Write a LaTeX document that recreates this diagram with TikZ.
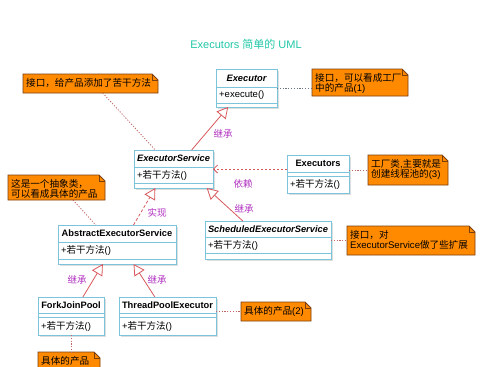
\documentclass[tikz,border=0pt]{standalone}
\usepackage{fontspec}
\setmainfont{Liberation Sans}
\newfontfamily\cjkfont{Noto Sans CJK SC}
\newcommand\zh[1]{{\cjkfont #1}}
\usetikzlibrary{arrows.meta,calc}
\definecolor{boxc}{HTML}{7CC4DC}
\definecolor{notefill}{HTML}{FF8A00}
\definecolor{notedraw}{HTML}{7A3E10}
\definecolor{arrc}{HTML}{D8585C}
\definecolor{labc}{HTML}{B030C0}
\definecolor{titlec}{HTML}{20C8A8}
\definecolor{linkc}{HTML}{C06868}
\definecolor{linkg}{HTML}{6A7480}
\newcommand\umlnote[6]{%
  \path[fill=notefill,draw=notedraw,line width=0.8pt] (#2,#3) -- (#4-6,#3) -- (#4,#3+6) -- (#4,#5) -- (#2,#5) -- cycle;
  \draw[notedraw,line width=0.6pt] (#4-6,#3) -- (#4-6,#3+6) -- (#4,#3+6);
  \node[inner sep=0pt,outer sep=0pt,minimum width={(#4-#2)*1pt},minimum height={(#5-#3)*1pt},anchor=north west] (#1) at (#2,#3) {};
  \node[notetext,anchor=north west] (#1-t) at (#2+3,#3+4) {#6};
}
\newcommand\umlclass[7]{%
  \fill[black!13] (#2+1.8,#3+1.8) rectangle (#4+1.8,#5+1.8);
  \node[classbox,minimum width={(#4-#2)*1pt},minimum height={(#5-#3)*1pt},anchor=north west] (#1) at (#2,#3) {};
  \draw[boxc,line width=1pt] (#2,#6) -- (#4,#6) (#2,#7) -- (#4,#7);
}
\begin{document}
\begin{tikzpicture}[x=1pt,y=-1pt,
  classbox/.style={draw=boxc,fill=white,line width=1pt,inner sep=0pt,outer sep=0pt},
  hdri/.style={font=\fontsize{9.3}{10}\selectfont\bfseries\itshape,inner sep=0pt},
  hdrb/.style={font=\fontsize{9.3}{10}\selectfont\bfseries,inner sep=0pt},
  meth/.style={font=\fontsize{9.5}{10}\selectfont,inner sep=0pt,anchor=west},
  notetext/.style={font=\fontsize{9.6}{10.5}\selectfont,inner sep=0pt,align=left,text=black},
  lab/.style={font=\fontsize{9.5}{10}\selectfont\cjkfont,text=labc,inner sep=0pt},
  inherit/.style={draw=arrc,line width=0.8pt,-{Triangle[open,fill=white,length=11pt,width=12pt]}},
  realize/.style={inherit,dash pattern=on 3pt off 2pt},
  depend/.style={draw=arrc,line width=0.8pt,dash pattern=on 2pt off 2pt,-{Straight Barb[length=4pt,width=8pt]}},
  notelink/.style={draw=linkc,line width=0.8pt,dash pattern=on 1.2pt off 1.6pt},
  notelinkg/.style={draw=linkg,line width=0.8pt,dash pattern=on 1.2pt off 1.6pt}]
\useasboundingbox[fill=white] (0,0) rectangle (499,367);

\node[font=\fontsize{11}{12}\selectfont,text=titlec,inner sep=0pt] (title) at (246,44) {Executors \zh{简单的} UML};

% classes
\umlclass{ex}{216}{69}{277}{107}{87}{103}
\node[hdri] (ex-h) at (246.5,78) {Executor};
\node[meth] (ex-m) at (219,95) {+execute()};

\umlclass{es}{134}{150}{213}{188}{167}{183}
\node[hdri] (es-h) at (173.5,158.5) {ExecutorService};
\node[meth] (es-m) at (137,175) {+\zh{若干方法}()};

\umlclass{exs}{287}{155}{349}{193}{172}{176}
\node[hdrb] (exs-h) at (318,163.5) {Executors};
\node[meth] (exs-m) at (290,184.5) {+\zh{若干方法}()};

\umlclass{ses}{205}{221}{331}{259}{237}{253}
\node[hdri] (ses-h) at (268,229) {ScheduledExecutorService};
\node[meth] (ses-m) at (208,245) {+\zh{若干方法}()};

\umlclass{aes}{58}{225}{176}{264}{242}{259}
\node[hdrb] (aes-h) at (117,233.5) {AbstractExecutorService};
\node[meth] (aes-m) at (61,250.5) {+\zh{若干方法}()};

\umlclass{fjp}{38}{297}{104}{335}{313}{317}
\node[hdrb] (fjp-h) at (71,305) {ForkJoinPool};
\node[meth] (fjp-m) at (41,326) {+\zh{若干方法}()};

\umlclass{tpe}{119}{297}{216}{335}{313}{317}
\node[hdrb] (tpe-h) at (167.5,305) {ThreadPoolExecutor};
\node[meth] (tpe-m) at (122,326) {+\zh{若干方法}()};

% notes
\umlnote{n1}{23}{74}{158}{93}{\zh{接口，给产品添加了苦干方法}}
\umlnote{n2}{312}{69}{408}{96}{\zh{接口，可以看成工厂}\\\zh{中的产品}(1)}
\umlnote{n3}{368}{155}{448}{185}{\zh{工厂类}{,}\zh{主要就是}\\\zh{创建线程池的}(3)}
\umlnote{n4}{8}{175}{105}{200}{\zh{这是一个抽象类，}\\\zh{可以看成具体的产品}}
\umlnote{n5}{347}{226}{475}{255}{\zh{接口，对}\\ExecutorService\zh{做了些扩展}}
\umlnote{n6}{241}{302}{311}{321}{\zh{具体的产品}(2)}
\umlnote{n7}{38}{352}{100}{372}{\zh{具体的产品}}

% relations
\draw[inherit] ($(es.north west)!0.73!(es.north east)$) -- ($(ex.south west)!0.2!(ex.south east)$);
\draw[inherit] ($(ses.north west)!0.30!(ses.north east)$) -- ($(es.south west)!0.92!(es.south east)$);
\draw[realize] ($(aes.north west)!0.64!(aes.north east)$) -- ($(es.south west)!0.27!(es.south east)$);
\draw[inherit] ($(fjp.north west)!0.68!(fjp.north east)$) -- ($(aes.south west)!0.38!(aes.south east)$);
\draw[inherit] ($(tpe.north west)!0.37!(tpe.north east)$) -- ($(aes.south west)!0.64!(aes.south east)$);
\draw[depend] (es.east -| exs.west) -- (es.east);

% labels
\node[lab] (l1) at (223,134) {继承};
\node[lab] (l2) at (243,184) {依赖};
\node[lab] (l3) at (244,209) {继承};
\node[lab] (l4) at (157,213) {实现};
\node[lab] (l5) at (77,280) {继承};
\node[lab] (l6) at (157,280) {继承};

% note links
\draw[notelink] ($(n1.south west)!0.59!(n1.south east)$) -- ($(es.north west)!0.27!(es.north east)$);
\draw[notelinkg] (ex.east) -- (ex.east -| n2.west);
\draw[notelink] (n3.west -| exs.east) -- (n3.west);
\draw[notelink] ($(n4.south west)!0.67!(n4.south east)$) -- ($(aes.north west)!0.32!(aes.north east)$);
\draw[notelink] (ses.east) -- (ses.east -| n5.west);
\draw[notelink] (n6.west -| tpe.east) -- (n6.west);
\draw[notelink] (fjp.south) -- (fjp.south |- n7.north);
\end{tikzpicture}
\end{document}
